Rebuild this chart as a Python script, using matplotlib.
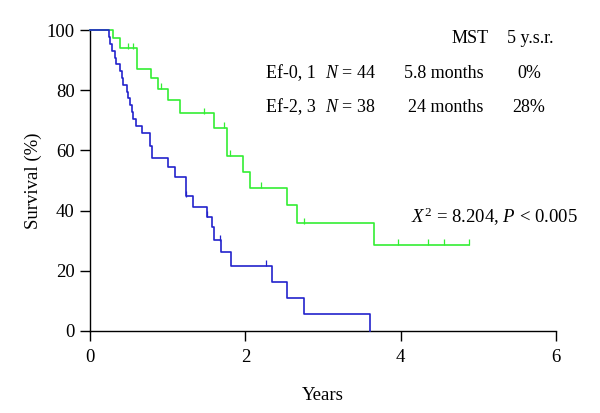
import numpy as np
import matplotlib
matplotlib.use("Agg")
import matplotlib.pyplot as plt

# Ef-0,1 (blue) : drop times (years) and survival after each drop (%)
blue_times = [0.24, 0.26, 0.28, 0.32, 0.34, 0.38, 0.41, 0.43, 0.47, 0.49, 0.52, 0.54,
              0.55, 0.59, 0.67, 0.77, 0.80, 1.00, 1.09, 1.24, 1.33, 1.50, 1.57, 1.59,
              1.69, 1.82, 2.34, 2.54, 2.76, 3.60]
blue_surv = [97.7, 95.5, 93.2, 90.9, 88.6, 86.4, 84.1, 81.8, 79.5, 77.3, 75.0, 72.7,
             70.5, 68.2, 65.9, 61.4, 57.6, 54.4, 51.3, 44.7, 41.3, 38.0, 34.4, 30.2,
             26.1, 21.7, 16.1, 10.8, 5.6, 0.0]
blue_censor = [1.24, 1.50, 1.67, 2.27]
blue_end = 3.60

# Ef-2,3 (green)
green_times = [0.30, 0.38, 0.60, 0.79, 0.87, 1.00, 1.16, 1.60, 1.76, 1.97, 2.06,
               2.54, 2.67, 3.65]
green_surv = [97.4, 94.0, 87.2, 84.2, 80.5, 76.7, 72.4, 67.6, 58.3, 52.8, 47.6,
              41.7, 35.8, 28.7]
green_censor = [0.49, 0.55, 0.92, 1.47, 1.72, 1.80, 2.20, 2.75, 3.97, 4.35, 4.55, 4.88]
green_end = 4.88

x_ticks = [0, 2, 4, 6]
y_ticks = [0, 20, 40, 60, 80, 100]

plt.rcParams['font.family'] = ['Liberation Serif', 'DejaVu Serif']
plt.rcParams['mathtext.fontset'] = 'custom'
plt.rcParams['mathtext.rm'] = 'Liberation Serif'
plt.rcParams['mathtext.it'] = 'Liberation Serif:italic'


def km_line(times, surv, end):
    x = np.concatenate([[0], times, [end]])
    y = np.concatenate([[100], surv, [surv[-1]]])
    return x, y


def surv_at(times, surv, t):
    x = np.concatenate([[0], times])
    y = np.concatenate([[100], surv])
    idx = np.searchsorted(x, t, side='right') - 1
    return y[idx]


fig = plt.figure(figsize=(6, 4.13), dpi=100)
ax = fig.add_axes([0.15, 0.199, 0.777, 0.728])

blue = '#2222cc'
green = '#33ee33'

for times, surv, end, cens, col in [
    (green_times, green_surv, green_end, green_censor, green),
    (blue_times, blue_surv, blue_end, blue_censor, blue),
]:
    x, y = km_line(times, surv, end)
    ax.step(x, y, where='post', color=col, lw=1.2, clip_on=False, zorder=3)
    cy = [surv_at(times, surv, t) for t in cens]
    ax.plot(cens, np.array(cy) + 0.8, linestyle='none', marker='|', markersize=4,
            markeredgewidth=0.9, color=col, clip_on=False, zorder=3)

ax.set_xlim(0, 6)
ax.set_ylim(0, 100)
ax.set_xticks(x_ticks)
ax.set_yticks(y_ticks)
ax.spines['top'].set_visible(False)
ax.spines['right'].set_visible(False)
ax.spines['left'].set_linewidth(1.0)
ax.spines['bottom'].set_linewidth(1.0)
ax.tick_params(direction='out', length=7, width=1.0, labelsize=13.5)
ax.tick_params(axis='x', pad=6)
ax.tick_params(axis='y', pad=4)
ax.set_xlabel('Years', fontsize=13.5, labelpad=15)
ax.set_ylabel('Survival (%)', fontsize=13.5, labelpad=3)

fs = 13
ax.text(4.89, 97.3, 'MST', fontsize=fs, ha='center', va='center')
ax.text(5.66, 97.3, '5 y.s.r.', fontsize=fs, ha='center', va='center')

rows = [('Ef-0, 1', '$N$ = 44', '5.8 months', '0%', 85.7),
        ('Ef-2, 3', '$N$ = 38', '24 months', '28%', 74.3)]
for grp, n, mst, ysr, yy in rows:
    ax.text(2.27, yy, grp, fontsize=fs, ha='left', va='center')
    ax.text(3.02, yy, n, fontsize=fs, ha='left', va='center')
    ax.text(5.06, yy, mst, fontsize=fs, ha='right', va='center')
    ax.text(5.65, yy, ysr, fontsize=fs, ha='center', va='center')

ax.text(4.13, 38.0, '$X^2$ = 8.204, $P$ < 0.005', fontsize=13.5, ha='left', va='center')

fig.savefig('out.png', dpi=100)
